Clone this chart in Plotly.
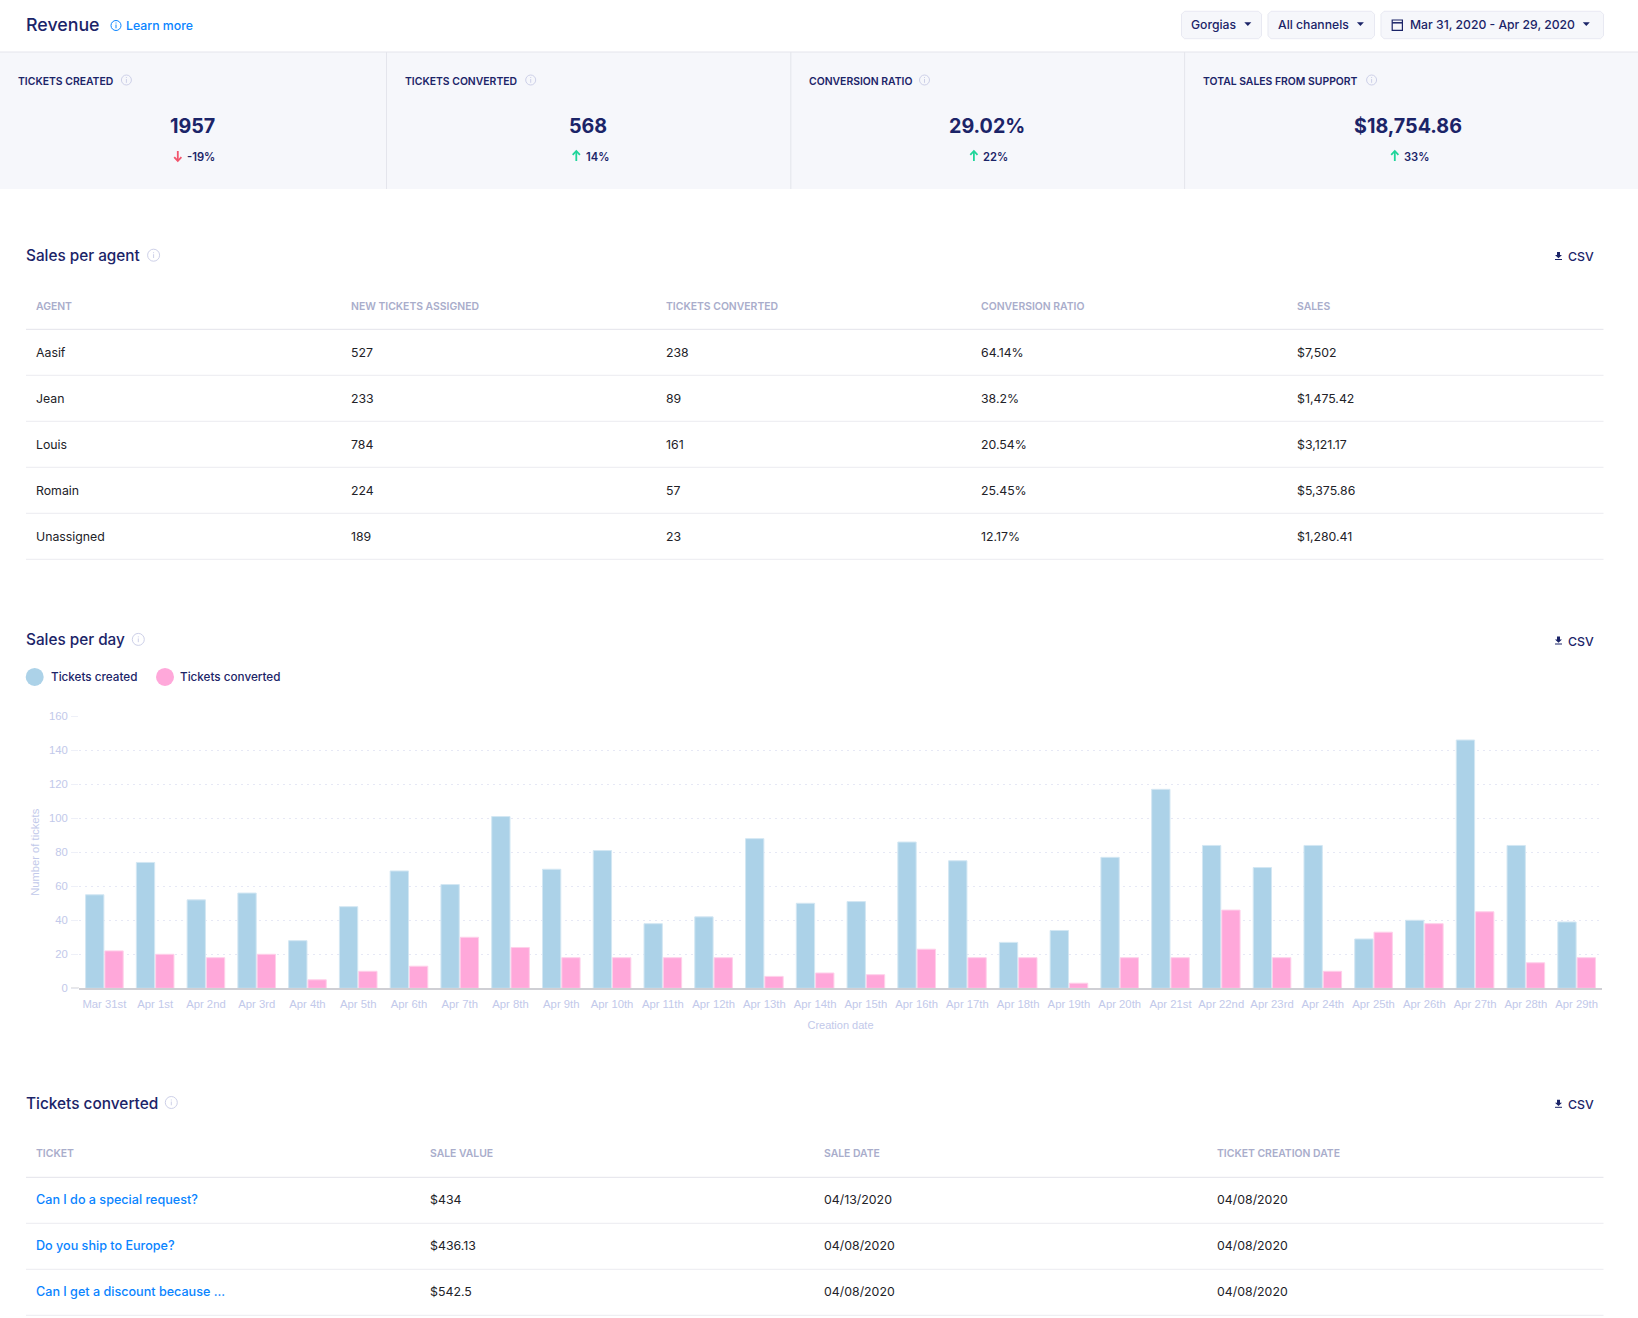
import plotly.graph_objects as go

W, H = 1638, 1318

days = ["Mar 31st","Apr 1st","Apr 2nd","Apr 3rd","Apr 4th","Apr 5th","Apr 6th","Apr 7th","Apr 8th","Apr 9th",
        "Apr 10th","Apr 11th","Apr 12th","Apr 13th","Apr 14th","Apr 15th","Apr 16th","Apr 17th","Apr 18th","Apr 19th",
        "Apr 20th","Apr 21st","Apr 22nd","Apr 23rd","Apr 24th","Apr 25th","Apr 26th","Apr 27th","Apr 28th","Apr 29th"]
tickets_created = [55,74,52,56,28,48,69,61,101,70,81,38,42,88,50,51,86,75,27,34,77,117,84,71,84,29,40,146,84,39]
tickets_converted = [22,20,18,20,5,10,13,30,24,18,18,18,18,7,9,8,23,18,18,3,18,18,46,18,10,33,38,45,15,18]

stat_labels = ["TICKETS CREATED","TICKETS CONVERTED","CONVERSION RATIO","TOTAL SALES FROM SUPPORT"]
stat_values = ["1957","568","29.02%","$18,754.86"]
stat_deltas = ["-19%","14%","22%","33%"]

agent_headers = ["AGENT","NEW TICKETS ASSIGNED","TICKETS CONVERTED","CONVERSION RATIO","SALES"]
agents = ["Aasif","Jean","Louis","Romain","Unassigned"]
assigned = ["527","233","784","224","189"]
converted = ["238","89","161","57","23"]
ratios = ["64.14%","38.2%","20.54%","25.45%","12.17%"]
sales = ["$7,502","$1,475.42","$3,121.17","$5,375.86","$1,280.41"]

ticket_headers = ["TICKET","SALE VALUE","SALE DATE","TICKET CREATION DATE"]
tickets = ["Can I do a special request?","Do you ship to Europe?","Can I get a discount because ..."]
sale_values = ["$434","$436.13","$542.5"]
sale_dates = ["04/13/2020","04/08/2020","04/08/2020"]
creation_dates = ["04/08/2020","04/08/2020","04/08/2020"]

NAVY = "#1B2468"
DARK = "#222228"
BLUE = "#0A84FF"
MUTED = "#A9ADCB"
ICON = "#CDD0E8"
RULE = "#EBEBF0"
TICK = "#C2C9EA"
BASE = "#CFCFD4"
UI = "Inter"
LEFT, RIGHT = 26, 1603.5

def px(x): return x / W
def py(y): return 1 - y / H

annotations, shapes = [], []

def text(x, y, s, size=13, color=DARK, weight=400, anchor="left", family=UI):
    annotations.append(dict(x=px(x - 1 if anchor == "left" else x), y=py(y), xref="paper", yref="paper", text=s, showarrow=False,
                            xanchor=anchor, yanchor="middle", borderpad=0,
                            font=dict(family=family, size=size, color=color, weight=weight)))

def rect(x0, y0, x1, y1, fill=None, line=None, lw=1, layer="below"):
    shapes.append(dict(type="rect", xref="paper", yref="paper", x0=px(x0), x1=px(x1), y0=py(y0), y1=py(y1),
                       fillcolor=fill or "rgba(0,0,0,0)", line=dict(color=line or "rgba(0,0,0,0)", width=lw if line else 0),
                       layer=layer))

def hline(x0, x1, y, color=RULE, lw=1, layer="below"):
    shapes.append(dict(type="line", xref="paper", yref="paper", x0=px(x0), x1=px(x1), y0=py(y), y1=py(y),
                       line=dict(color=color, width=lw), layer=layer))

def vline(x, y0, y1, color=RULE, lw=1, layer="below"):
    shapes.append(dict(type="line", xref="paper", yref="paper", x0=px(x), x1=px(x), y0=py(y0), y1=py(y1),
                       line=dict(color=color, width=lw), layer=layer))

def circle(cx, cy, r, fill=None, line=None, lw=1):
    shapes.append(dict(type="circle", xref="paper", yref="paper", x0=px(cx-r), x1=px(cx+r), y0=py(cy-r), y1=py(cy+r),
                       fillcolor=fill or "rgba(0,0,0,0)", line=dict(color=line or "rgba(0,0,0,0)", width=lw if line else 0)))

def path(points, fill=None, line=None, lw=1, close=True):
    d = "M " + " L ".join(f"{px(x):.5f},{py(y):.5f}" for x, y in points) + (" Z" if close else "")
    shapes.append(dict(type="path", xref="paper", yref="paper", path=d,
                       fillcolor=fill or "rgba(0,0,0,0)", line=dict(color=line or "rgba(0,0,0,0)", width=lw if line else 0)))

def info(cx, cy, r=5.5, color=ICON):
    circle(cx, cy, r, line=color, lw=1)
    vline(cx, cy-1, cy+2.8, color=color, lw=1, layer="above")
    vline(cx, cy-3, cy-2, color=color, lw=1, layer="above")

def caret(cx, cy, color=NAVY):
    path([(cx-3.5, cy-1.7), (cx+3.5, cy-1.7), (cx, cy+2)], fill=color)

def download(cx, cy):
    path([(cx-1.5,cy-4),(cx+1.5,cy-4),(cx+1.5,cy-1),(cx+3.5,cy-1),(cx,cy+2.2),(cx-3.5,cy-1),(cx-1.5,cy-1)], fill=NAVY)
    path([(cx-3.5,cy+3),(cx+3.5,cy+3),(cx+3.5,cy+4),(cx-3.5,cy+4)], fill=NAVY)

def button(x0, x1):
    y0, y1, r = 11.3, 38.7, 3
    path([(x0+r,y0),(x1-r,y0),(x1,y0+r),(x1,y1-r),(x1-r,y1),(x0+r,y1),(x0,y1-r),(x0,y0+r)], fill="#F6F7FB", line="#E8E9F2")

# header
text(26, 25, "Revenue", size=17.8, color=NAVY, weight=500)
info(116, 25.5, r=5, color=BLUE)
text(125.6, 25.5, "Learn more", size=12.3, color=BLUE, weight=500)
button(1181.5, 1261.5); button(1268, 1374.5); button(1381, 1603.5)
text(1191, 24.5, "Gorgias", size=12.2, color=NAVY, weight=500); caret(1247.8, 24)
text(1278, 24.5, "All channels", size=12.2, color=NAVY, weight=500); caret(1360.4, 24)
rect(1392.2, 20, 1402.4, 30.4, line=NAVY, lw=1.2, layer="above"); hline(1392.2, 1402.4, 22.8, NAVY, 1.5, layer="above")
text(1410, 24.5, "Mar 31, 2020 - Apr 29, 2020", size=12.2, color=NAVY, weight=500); caret(1586.3, 24)

# stat panel
rect(0, 52, W, 189, fill="#F6F7FB")
hline(0, W, 52, "#E4E5EC")
for x in (386.5, 790.8, 1184.6):
    vline(x, 52, 189, "#E4E5EC")
stat_x = [17.8, 405.3, 808.5, 1202.8]
stat_icon = [126.4, 530.7, 924.5, 1371.6]
stat_cx = [192.7, 588, 986.6, 1407.6]
arrow_x = [177.8, 576.3, 973.9, 1394.8]
for i in range(4):
    text(stat_x[i], 81, stat_labels[i], size=10.4, color=NAVY, weight=600)
    info(stat_icon[i], 80, r=5)
    text(stat_cx[i], 125.7, stat_values[i], size=19.7, color=NAVY, weight=700, anchor="center")
    up = not stat_deltas[i].startswith("-")
    ax, top, bot = arrow_x[i], 151, 161
    col = "#1FD59A" if up else "#F2556D"
    path([(ax, top), (ax, bot)], line=col, lw=1.8, close=False)
    if up:
        path([(ax-3.6, top+3.8), (ax, top), (ax+3.6, top+3.8)], line=col, lw=1.8, close=False)
    else:
        path([(ax-3.6, bot-3.8), (ax, bot), (ax+3.6, bot-3.8)], line=col, lw=1.8, close=False)
    text(ax + 9.2, 157, stat_deltas[i], size=11.2, color=NAVY, weight=600)

# sales per agent
text(26, 255.7, "Sales per agent", size=15.3, color=NAVY, weight=500)
info(153.6, 255.2, r=6)
download(1558.5, 256); text(1568, 256.9, "CSV", size=12.3, color=NAVY, weight=500)
agent_x = [35.5, 351.2, 665.6, 981, 1297]
for hx, h in zip(agent_x, agent_headers):
    text(hx, 306.5, h, size=10.4, color=MUTED, weight=600)
hline(LEFT, RIGHT, 329.3, "#E3E3EA")
for r, row in enumerate(zip(agents, assigned, converted, ratios, sales)):
    y = 352.9 + r * 46
    for c, v in enumerate(row):
        text(agent_x[c], y, v, size=12.3, color=DARK, weight=400)
    hline(LEFT, RIGHT, 375.3 + r * 46)

# sales per day
text(26, 639.9, "Sales per day", size=15.3, color=NAVY, weight=500)
info(138.3, 639.4, r=6)
download(1558.5, 640.5); text(1568, 641.2, "CSV", size=12.3, color=NAVY, weight=500)
circle(34.7, 676.9, 9, fill="#ACD2E8")
text(50.6, 677.3, "Tickets created", size=11.7, color=NAVY, weight=500)
circle(165, 676.9, 9, fill="#FFA8DA")
text(180, 677.3, "Tickets converted", size=11.7, color=NAVY, weight=500)

# tickets converted
text(26, 1103.3, "Tickets converted", size=15.4, color=NAVY, weight=500)
info(171.3, 1102.5, r=6)
download(1558.5, 1103.8); text(1568, 1104.6, "CSV", size=12.3, color=NAVY, weight=500)
ticket_x = [35.5, 429.8, 823.6, 1217.4]
for hx, h in zip(ticket_x, ticket_headers):
    text(hx, 1153.2, h, size=10.4, color=MUTED, weight=600)
hline(LEFT, RIGHT, 1177.3, "#E3E3EA")
for r, row in enumerate(zip(tickets, sale_values, sale_dates, creation_dates)):
    y = 1199 + r * 46
    for c, v in enumerate(row):
        text(ticket_x[c], y, v, size=12.6 if c == 0 else 12.35, color=BLUE if c == 0 else DARK, weight=500 if c == 0 else 400)
    hline(LEFT, RIGHT, 1223.3 + r * 46)

# short stub of the baseline to the left of the plot area
shapes.append(dict(type="line", xref="paper", yref="y", x0=px(71), x1=px(79), y0=0, y1=0,
                   line=dict(color=BASE, width=1.5), layer="above"))

fig = go.Figure()
fig.add_bar(x=days, y=tickets_created, name="Tickets created", marker=dict(color="#ACD2E8", line=dict(color="#D3E7F3", width=1)))
fig.add_bar(x=days, y=tickets_converted, name="Tickets converted", marker=dict(color="#FFA8DA", line=dict(color="#FFD0EA", width=1)))

fig.update_layout(
    width=W, height=H, autosize=False, margin=dict(l=0, r=0, t=0, b=0),
    paper_bgcolor="white", plot_bgcolor="white", showlegend=False,
    barmode="group", bargap=0.24, bargroupgap=0.05,
    annotations=annotations, shapes=shapes,
    font=dict(family="Liberation Sans"),
    xaxis=dict(domain=[px(79), px(1602)], range=[-0.5, 29.5], type="category", showgrid=False,
               tickangle=0, tickfont=dict(family="Liberation Sans", size=11.3, color=TICK), ticks="", automargin=False,
               showline=True, linecolor=BASE, linewidth=1.5, ticklabelstandoff=4,
               title=dict(text="Creation date", standoff=13, font=dict(family="Liberation Sans", size=11, color=TICK))),
    yaxis=dict(domain=[py(988.3), py(716.2)], range=[0, 160], tick0=0, dtick=20, automargin=False,
               gridcolor="#E6E8F5", griddash="2px,4px", gridwidth=1, zeroline=False, showline=False,
               ticks="outside", ticklen=7, tickcolor="#EEF0F8", tickwidth=1, ticklabelstandoff=1,
               tickfont=dict(family="Liberation Sans", size=11.3, color=TICK),
               title=dict(text="Number of tickets", standoff=6, font=dict(family="Liberation Sans", size=11.2, color=TICK))),
)

fig.write_html("out.html", config=dict(displayModeBar=False), post_script="document.body.style.margin='0';")
